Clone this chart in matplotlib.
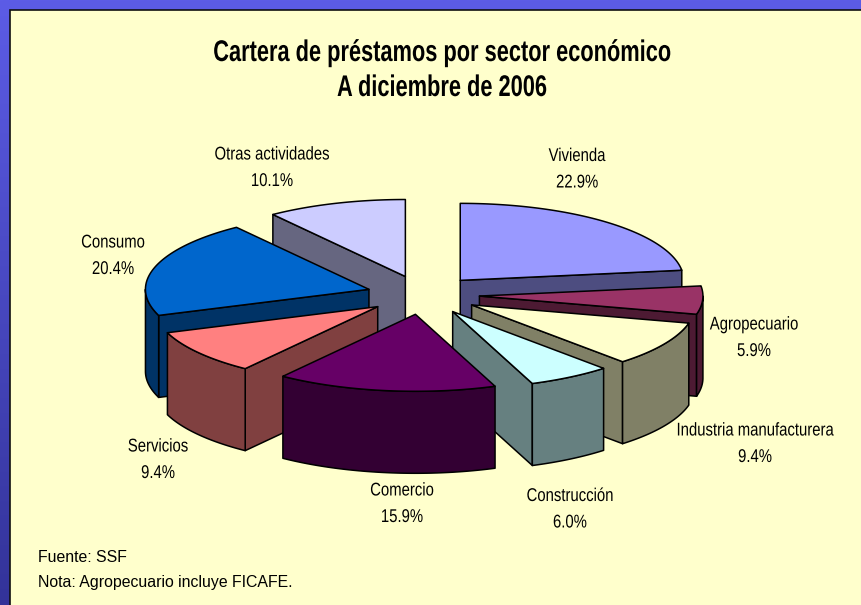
import numpy as np
import matplotlib
matplotlib.use("Agg")
import matplotlib.pyplot as plt
from matplotlib.colors import to_rgb
from matplotlib.patches import Polygon, Rectangle
from matplotlib.patheffects import AbstractPathEffect
from matplotlib.transforms import Affine2D

# --- data ---
categories = ["Vivienda", "Agropecuario", "Industria manufacturera", "Construcción",
              "Comercio", "Servicios", "Consumo", "Otras actividades"]
shares = [22.9, 5.9, 9.4, 6.0, 15.9, 9.4, 20.4, 10.1]
title_lines = ["Cartera de préstamos por sector económico", "A diciembre de 2006"]
notes = ["Fuente: SSF", "Nota: Agropecuario incluye FICAFE."]

# --- style ---
colors = ["#9999FF", "#993366", "#FFFFCC", "#CCFFFF", "#660066", "#FF8080", "#0066CC", "#CCCCFF"]
label_xy = [(577, 156.5), (754, 325), (755, 431), (570, 496.5), (402, 491), (158, 447), (113, 243), (272, 155)]
LINE_GAP = 26.5
CX, CY = 423.0, 295.0      # pie centre (px)
RX, RY = 223.5, 77.0       # projected radii (px)
DEPTH = 82.0               # pie thickness (px)
EXPLODE = 56.5             # explosion (px along x)
EDGE = "black"
LW = 1.1

W, H = 861, 605
fig = plt.figure(figsize=(W / 100, H / 100), dpi=100)
ax = fig.add_axes([0, 0, 1, 1])
ax.set_xlim(0, W)
ax.set_ylim(H, 0)
ax.axis("off")


class Squeeze(AbstractPathEffect):
    """Condense a text horizontally about its anchor (the reference font is narrow)."""

    def __init__(self, x_px, factor):
        super().__init__()
        self.x_px, self.factor = x_px, factor

    def draw_path(self, renderer, gc, tpath, affine, rgbFace=None):
        squeeze = Affine2D().translate(-self.x_px, 0).scale(self.factor, 1).translate(self.x_px, 0)
        renderer.draw_path(gc, tpath, affine + squeeze, rgbFace)


def narrow_text(x, y, s, factor, **kw):
    txt = ax.text(x, y, s, ha="center", va="center", family="Liberation Sans",
                  color="black", zorder=5, **kw)
    txt.set_path_effects([Squeeze(ax.transData.transform((x, y))[0], factor)])
    return txt


# slide background
top, bottom = np.array(to_rgb("#5C5CE6")), np.array(to_rgb("#333399"))
t = np.linspace(0, 1, 256)[:, None, None]
grad = top[None, None, :] * (1 - t) + bottom[None, None, :] * t
ax.imshow(grad, extent=(0, W, H, 0), aspect="auto", zorder=0)
ax.set_xlim(0, W)
ax.set_ylim(H, 0)
ax.add_patch(Rectangle((10, 10), W, H, facecolor="#FFFFCC", edgecolor="#101010", lw=1.2, zorder=1))


def ground(theta, radius, apex):
    """Project an angle (clockwise from north, radians) onto the tilted pie."""
    return np.column_stack([apex[0] + RX * radius * np.sin(theta),
                            apex[1] - RY * radius * np.cos(theta)])


values = np.asarray(shares, dtype=float)
edges = np.cumsum(np.r_[0.0, values]) / values.sum() * 2 * np.pi
mids = (edges[:-1] + edges[1:]) / 2
apexes = [(CX + EXPLODE * np.sin(m), CY - EXPLODE * RY / RX * np.cos(m)) for m in mids]
down = np.array([0.0, DEPTH])
order = np.argsort(-np.cos(mids))  # back of the pie first

z = 2.0
for i in order:
    t1, t2 = edges[i], edges[i + 1]
    apex = np.array(apexes[i])
    top_col = np.array(to_rgb(colors[i]))
    side_col = top_col * 0.5

    def face(points, col):
        global z
        ax.add_patch(Polygon(points, closed=True, facecolor=col, edgecolor=EDGE,
                             lw=LW, joinstyle="round", zorder=z))
        z += 0.01

    # radial cut faces that look towards the viewer
    if np.sin(t1) < 0:
        p = ground(np.array([t1]), 1, apex)[0]
        face([apex, p, p + down, apex + down], side_col)
    if np.sin(t2) > 0:
        p = ground(np.array([t2]), 1, apex)[0]
        face([apex, p, p + down, apex + down], side_col)
    # outer rim, front half only
    lo, hi = max(t1, np.pi / 2), min(t2, 3 * np.pi / 2)
    if hi > lo:
        arc = ground(np.linspace(lo, hi, 80), 1, apex)
        face(np.vstack([arc, (arc + down)[::-1]]), side_col)
    # top face
    arc = ground(np.linspace(t1, t2, 120), 1, apex)
    face(np.vstack([apex, arc]), top_col)

# texts
for yy, line in zip((53, 88), title_lines):
    narrow_text(442, yy, line, 0.73, fontweight="bold", fontsize=21.5)
for (x, y), name, v in zip(label_xy, categories, shares):
    narrow_text(x, y, name, 0.806, fontsize=13.3)
    narrow_text(x, y + LINE_GAP, f"{v:.1f}%", 0.806, fontsize=13.3)
for yy, line in zip((557, 582), notes):
    ax.text(38, yy, line, ha="left", va="center", family="Liberation Sans", fontsize=11.4,
            color="black", zorder=5)

fig.savefig("out.png", dpi=100)
